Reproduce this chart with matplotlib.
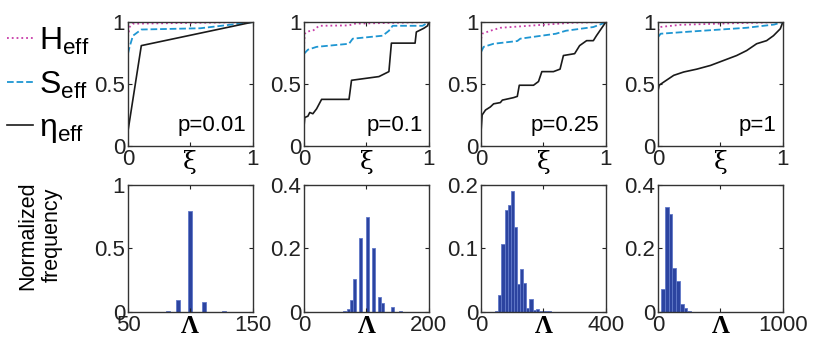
import matplotlib
matplotlib.use("Agg")
from matplotlib import pyplot as plt
from matplotlib.lines import Line2D

plt.rcParams['font.family'] = ['Liberation Sans', 'DejaVu Sans']
plt.rcParams['mathtext.default'] = 'regular'

# valores
p_labels = ["p=0.01", "p=0.1", "p=0.25", "p=1"]

xi_H = [[0, 0.013, 0.04, 1],
        [0, 0.005, 0.03, 0.07, 0.12, 0.36, 0.4, 1],
        [0, 0.008, 0.074, 0.154, 0.31, 0.52, 0.74, 1],
        [0, 0.013, 0.18, 0.58, 1]]
H_eff = [[0.88, 0.96, 0.987, 1],
         [0.825, 0.906, 0.925, 0.93, 0.97, 0.973, 0.987, 1],
         [0.866, 0.906, 0.93, 0.954, 0.965, 0.98, 0.995, 1],
         [0.93, 0.96, 0.978, 0.99, 1]]

xi_S = [[0, 0.013, 0.04, 0.107, 0.58, 1],
        [0, 0.03, 0.1, 0.36, 0.39, 0.63, 0.68, 0.71, 0.95, 1],
        [0, 0.02, 0.1, 0.29, 0.314, 0.6, 0.68, 0.9, 0.98, 1],
        [0, 0.02, 0.31, 0.71, 0.93, 1]]
S_eff = [[0.745, 0.8, 0.89, 0.94, 0.95, 1],
         [0.745, 0.777, 0.8, 0.825, 0.866, 0.89, 0.93, 0.97, 0.97, 1],
         [0.76, 0.8, 0.825, 0.847, 0.866, 0.906, 0.93, 0.96, 0.99, 1],
         [0.88, 0.906, 0.927, 0.954, 0.98, 1]]

xi_eta = [[0, 0.107, 1],
          [0, 0.005, 0.03, 0.045, 0.07, 0.1, 0.14, 0.36, 0.38, 0.6, 0.68, 0.7, 0.89, 0.9, 0.96, 0.99, 1],
          [0, 0.008, 0.035, 0.074, 0.1, 0.154, 0.17, 0.26, 0.29, 0.306, 0.42, 0.46, 0.487, 0.58,
           0.633, 0.66, 0.75, 0.79, 0.846, 0.9, 0.925, 1],
          [0, 0.008, 0.045, 0.125, 0.205, 0.31, 0.42, 0.525, 0.63, 0.71, 0.79, 0.87, 0.925, 0.98, 1]]
eta_eff = [[0.12, 0.81, 1],
           [0.17, 0.23, 0.24, 0.27, 0.26, 0.3, 0.376, 0.376, 0.53, 0.56, 0.6, 0.83, 0.83, 0.92, 0.95, 0.97, 1],
           [0.13, 0.25, 0.29, 0.315, 0.34, 0.35, 0.37, 0.39, 0.4, 0.49, 0.49, 0.52, 0.6, 0.6,
            0.62, 0.73, 0.745, 0.81, 0.85, 0.85, 0.89, 1],
           [0.45, 0.49, 0.516, 0.57, 0.597, 0.62, 0.65, 0.69, 0.73, 0.77, 0.825, 0.85, 0.89, 0.946, 1]]

lam1 = [77, 82, 86, 90, 95, 100, 105, 111, 116, 121, 127, 132, 137]
f1 = [0, 0.005, 0, 0.097, 0, 0.795, 0, 0.08, 0, 0, 0.003, 0, 0]
lam2 = [60, 65, 71, 76, 81, 86, 91, 96, 101, 106, 111, 116, 121, 126, 131, 136, 141, 148, 155]
f2 = [0.001, 0.002, 0.008, 0.038, 0.103, 0, 0.234, 0, 0.298, 0, 0.2, 0, 0.046, 0.029, 0, 0, 0.015, 0, 0.002]
lam3 = [50, 60, 70, 80, 90, 100, 110, 120, 130, 140, 150, 160, 170, 180, 190, 200, 210, 220, 230, 240]
f3 = [0.002, 0.027, 0.107, 0.16, 0.168, 0.19, 0.134, 0.044, 0.068, 0.045, 0.006, 0.02,
      0.003, 0.005, 0.002, 0.001, 0.001, 0.001, 0, 0]
lam4 = [40, 70, 100, 130, 160, 190, 220, 250, 280, 310, 340, 370, 400, 430, 460, 490]
f4 = [0.071, 0.332, 0.309, 0.138, 0.098, 0.025, 0.012, 0.004, 0.001, 0.001, 0, 0.001, 0, 0, 0.001, 0]

hist_lam = [lam1, lam2, lam3, lam4]
hist_f = [f1, f2, f3, f4]
bar_w = [3.5, 4.8, 10, 30]
x_lims = [(50, 150), (0, 200), (0, 400), (0, 1000)]
y_lims = [1, 0.4, 0.2, 0.4]
y_ticks = [[0, 0.5, 1], [0, 0.2, 0.4], [0, 0.1, 0.2], [0, 0.2, 0.4]]
y_tick_txt = [["0", "0.5", "1"], ["0", "0.2", "0.4"], ["0", "0.1", "0.2"], ["0", "0.2", "0.4"]]

c_H = '#C83CA8'
c_S = '#1E96D2'
c_bar = '#2C44A0'
c_edge = '#6078C8'

lefts = [0.154, 0.366, 0.579, 0.792]
w = 0.150

fig = plt.figure(figsize=(8.31, 3.45), dpi=100)


def arruma_eixo(ax):
    ax.tick_params(direction='in', top=True, right=True, length=3, width=0.8,
                   labelsize=16, pad=2, colors='#222222')
    for s in ax.spines.values():
        s.set_linewidth(1.0)
        s.set_color('#333333')


for i in range(4):
    ax = fig.add_axes([lefts[i], 0.577, w, 0.359])
    ax.plot(xi_H[i], H_eff[i], ':', color=c_H, lw=1.3)
    ax.plot(xi_S[i], S_eff[i], '--', color=c_S, lw=1.3)
    ax.plot(xi_eta[i], eta_eff[i], '-', color='#1a1a1a', lw=1.2)
    ax.set_xlim(0, 1)
    ax.set_ylim(0, 1)
    ax.set_xticks([0, 0.5, 1])
    ax.set_xticklabels(["0", "", "1"])
    ax.set_yticks([0, 0.5, 1])
    ax.set_yticklabels(["0", "0.5", "1"])
    ax.set_xlabel("ξ", fontsize=18, family=['DejaVu Serif'], labelpad=-14)
    ax.text(0.95, 0.08, p_labels[i], transform=ax.transAxes, ha='right', va='bottom', fontsize=16)
    arruma_eixo(ax)

for i in range(4):
    ax = fig.add_axes([lefts[i], 0.096, w, 0.368])
    ax.bar(hist_lam[i], hist_f[i], width=bar_w[i], color=c_bar, edgecolor=c_edge, linewidth=0.6)
    ax.set_xlim(*x_lims[i])
    ax.set_ylim(0, y_lims[i])
    a, b = x_lims[i]
    ax.set_xticks([a, (a + b) / 2, b])
    ax.set_xticklabels([str(a), "", str(b)])
    ax.set_yticks(y_ticks[i])
    ax.set_yticklabels(y_tick_txt[i])
    ax.set_xlabel("Λ", fontsize=18, family=['Liberation Serif'], fontweight='bold', labelpad=-15)
    arruma_eixo(ax)

fig.text(0.048, 0.318, "Normalized\nfrequency", rotation=90, ha='center', va='center',
         fontsize=15.5, linespacing=1.2)

handles = [Line2D([], [], ls=':', color=c_H, lw=1.3),
           Line2D([], [], ls='--', color=c_S, lw=1.3),
           Line2D([], [], ls='-', color='#1a1a1a', lw=1.2)]
labels = ["$H_{eff}$", "$S_{eff}$", "$η_{eff}$"]
fig.legend(handles, labels, loc='upper left', bbox_to_anchor=(0.005, 0.935), frameon=False,
           fontsize=23, handlelength=0.8, handletextpad=0.2, labelspacing=0.4,
           borderpad=0.1, borderaxespad=0)

plt.savefig("out.png", dpi=100)
